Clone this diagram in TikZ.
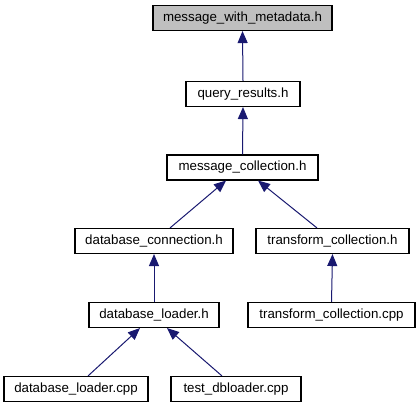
\documentclass[tikz,border=0pt]{standalone}
\usepackage{fontspec}
\setmainfont{Liberation Sans}
\usetikzlibrary{arrows.meta}
\definecolor{edgeblue}{HTML}{191970}
\definecolor{rootgray}{HTML}{BFBFBF}
\begin{document}
\begin{tikzpicture}[x=1pt,y=-1pt,
  box/.style={draw=black, line width=1.1pt, minimum height=25pt, inner sep=0pt, font=\fontsize{13.3}{15}\selectfont, fill=white},
  rootbox/.style={box, fill=rootgray},
  edge/.style={draw=edgeblue, line width=1pt, {Triangle[length=12pt,width=10pt]}-}]
\useasboundingbox (0,0) rectangle (419,411);
\node[rootbox, minimum width=179pt] (n1) at (242.5,18) {message\_with\_metadata.h};
\node[box, minimum width=114pt] (n2) at (243,94) {query\_results.h};
\node[box, minimum width=151pt] (n3) at (242.5,167.5) {message\_collection.h};
\node[box, minimum width=158pt] (n4) at (154,241) {database\_connection.h};
\node[box, minimum width=153pt] (n5) at (332.5,241) {transform\_collection.h};
\node[box, minimum width=130pt] (n6) at (154,315) {database\_loader.h};
\node[box, minimum width=167pt] (n7) at (331.5,315) {transform\_collection.cpp};
\node[box, minimum width=144pt] (n8) at (76,389) {database\_loader.cpp};
\node[box, minimum width=130pt] (n9) at (236,389) {test\_dbloader.cpp};
\draw[edge] (n1.south) -- (n2.north);
\draw[edge] (n2.south) -- (n3.north);
\draw[edge] ([xshift=-16.5pt]n3.south) -- ([xshift=16pt]n4.north);
\draw[edge] ([xshift=15.5pt]n3.south) -- ([xshift=-15.5pt]n5.north);
\draw[edge] (n4.south) -- (n6.north);
\draw[edge] (n5.south) -- (n7.north);
\draw[edge] ([xshift=-14pt]n6.south) -- ([xshift=12pt]n8.north);
\draw[edge] ([xshift=13pt]n6.south) -- ([xshift=-14pt]n9.north);
\end{tikzpicture}
\end{document}
